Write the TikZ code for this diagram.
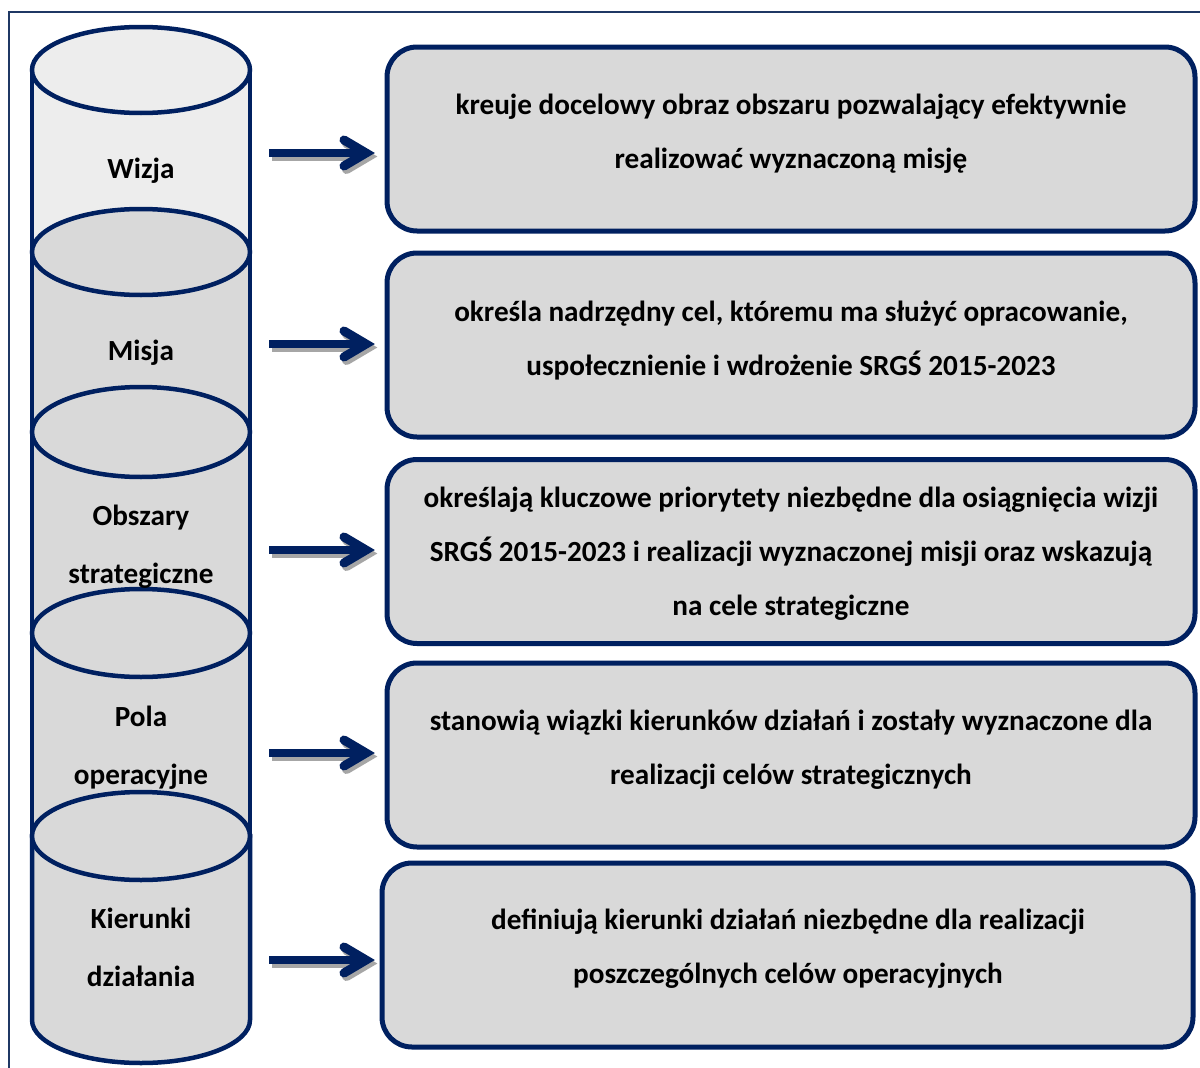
\documentclass[tikz,border=0pt]{standalone}
\usepackage{fontspec}
\setmainfont{Carlito}
\definecolor{navy}{HTML}{002060}
\definecolor{framecol}{HTML}{1F3864}
\definecolor{lightfill}{HTML}{EDEDED}
\definecolor{midfill}{HTML}{D9D9D9}
\definecolor{shadowgray}{HTML}{A6A6A6}
\begin{document}
\begin{tikzpicture}[x=1pt,y=-1pt,
  framestyle/.style={draw=framecol,line width=2pt},
  cylline/.style={draw=navy,line width=4.5pt},
  boxstyle/.style={draw=navy,line width=5pt,fill=midfill,rounded corners=30pt,inner sep=0pt,outer sep=0pt},
  boxtext/.style={font=\bfseries\fontsize{29.2}{54}\selectfont,align=center,text=black},
  cyltext/.style={font=\bfseries\fontsize{29.2}{58}\selectfont,align=center,text=black},
  shaft/.style={line width=8pt,line cap=butt},
  chev/.style={line width=9pt,line cap=round,line join=miter}]
\useasboundingbox (0,0) rectangle (1200,1068);
\fill[white] (0,0) rectangle (1200,1068);
\draw[framestyle] (9,1070) -- (9,12) -- (1202,12);

% cylinders
\def\rx{109}\def\ry{43}
% 1 Wizja
\fill[lightfill] (32,70) rectangle (250,252);
\draw[cylline] (32,70) -- (32,252) (250,70) -- (250,252);
\draw[cylline,fill=lightfill] (141,70) ellipse [x radius=\rx, y radius=\ry];
% 2 Misja
\fill[midfill] (32,252) rectangle (250,432);
\draw[cylline] (32,252) -- (32,432) (250,252) -- (250,432);
\draw[cylline,fill=midfill] (141,252) ellipse [x radius=\rx, y radius=\ry];
% 3 Obszary
\fill[midfill] (32,432) rectangle (250,633);
\draw[cylline] (32,432) -- (32,633) (250,432) -- (250,633);
\draw[cylline,fill=midfill] (141,432) ellipse [x radius=\rx, y radius=45];
% 4 Pola
\fill[midfill] (32,633) rectangle (250,836);
\draw[cylline] (32,633) -- (32,836) (250,633) -- (250,836);
\draw[cylline,fill=midfill] (141,633) ellipse [x radius=\rx, y radius=44];
% 5 Kierunki
\draw[cylline,fill=midfill] (32,836) -- (32,1020) arc[start angle=180,end angle=0,x radius=\rx,y radius=\ry] -- (250,836) -- cycle;
\draw[cylline,fill=midfill] (141,836) ellipse [x radius=\rx, y radius=44];

% cylinder labels
\node[cyltext] (c1) at (141,171) {Wizja};
\node[cyltext] (c2) at (141,353) {Misja};
\node[cyltext] (c3) at (141,547) {Obszary\\strategiczne};
\node[cyltext] (c4) at (141,748) {Pola\\operacyjne};
\node[cyltext] (c5) at (141,947) {Kierunki\\działania};

% boxes
\node[boxstyle,minimum width=808pt,minimum height=184pt] (b1) at (791,139) {};
\node[boxstyle,minimum width=808pt,minimum height=184pt] (b2) at (791,345) {};
\node[boxstyle,minimum width=808pt,minimum height=184pt] (b3) at (791,551.5) {};
\node[boxstyle,minimum width=808pt,minimum height=184pt] (b4) at (791,755) {};
\node[boxstyle,minimum width=811pt,minimum height=184pt] (b5) at (787.5,955) {};

\node[boxtext] (t1) at (791,134) {kreuje docelowy obraz obszaru pozwalający efektywnie\\realizować wyznaczoną misję};
\node[boxtext] (t2) at (791,341) {określa nadrzędny cel, któremu ma służyć opracowanie,\\uspołecznienie i wdrożenie SRGŚ 2015-2023};
\node[boxtext] (t3) at (791,554) {określają kluczowe priorytety niezbędne dla osiągnięcia wizji\\SRGŚ 2015-2023 i realizacji wyznaczonej misji oraz wskazują\\na cele strategiczne};
\node[boxtext] (t4) at (791,750) {stanowią wiązki kierunków działań i zostały wyznaczone dla\\realizacji celów strategicznych};
\node[boxtext] (t5) at (788,949) {definiują kierunki działań niezbędne dla realizacji\\poszczególnych celów operacyjnych};

% arrows
\foreach \i/\y in {1/153,2/344,3/550,4/753,5/960}{
  \coordinate (as\i) at (269,\y);
  \coordinate (ae\i) at (366,\y);
  \draw[shaft,shadowgray] ([shift={(2.5,3.5)}]as\i) -- ([shift={(-4,3.5)}]ae\i);
  \draw[chev,shadowgray] ([shift={(-19.5,-9.5)}]ae\i) -- ([shift={(2.5,3.5)}]ae\i) -- ([shift={(-19.5,16.5)}]ae\i);
  \draw[shaft,navy] (as\i) -- ([shift={(-6,0)}]ae\i);
  \draw[chev,navy] ([shift={(-22,-13)}]ae\i) -- (ae\i) -- ([shift={(-22,13)}]ae\i);
}
\end{tikzpicture}
\end{document}
